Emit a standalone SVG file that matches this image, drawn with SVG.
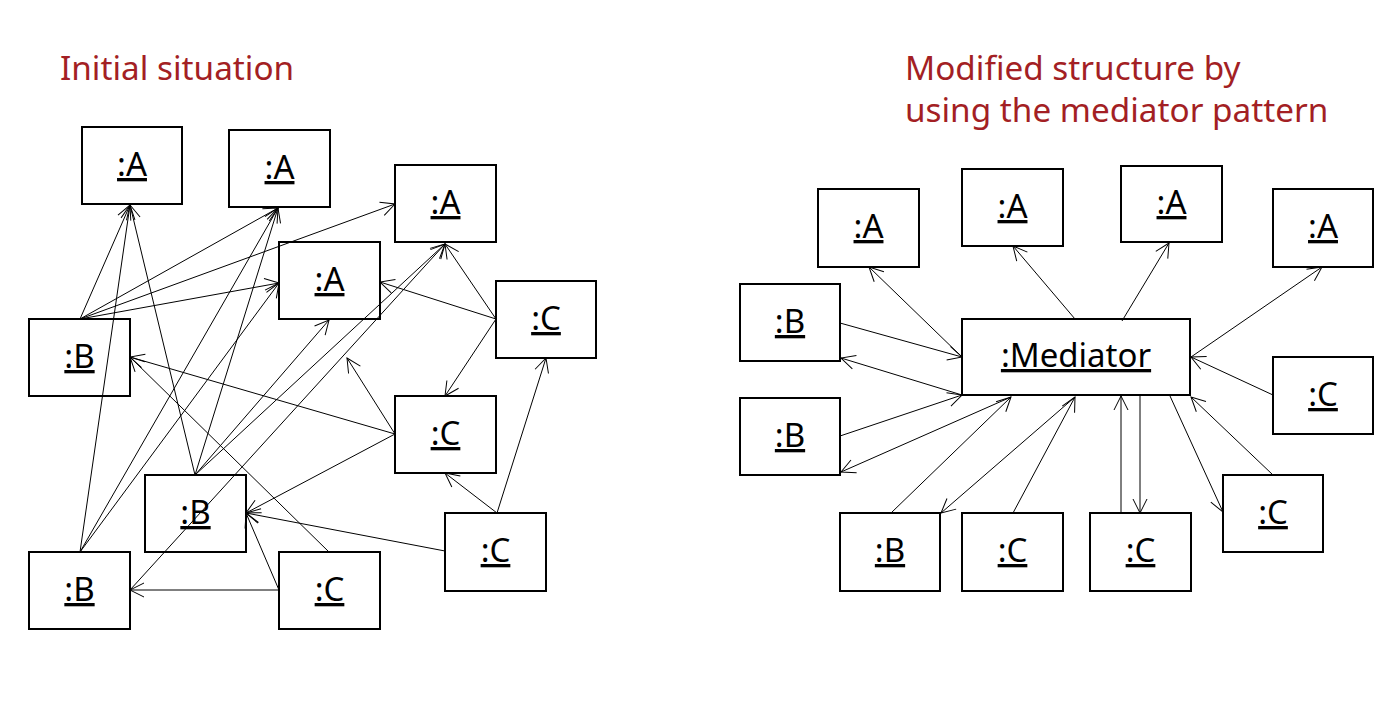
<svg xmlns="http://www.w3.org/2000/svg" width="1398" height="712" viewBox="0 0 1398 712">
<style>
.box{fill:#fff;stroke:#000;stroke-width:2}
.lbl{font-family:"Noto Sans","Open Sans",sans-serif;font-size:33px;fill:#000;text-anchor:middle;text-decoration:underline}
.title{font-family:"Noto Sans","Open Sans",sans-serif;font-size:33.3px;fill:#A31F24}
.c line{stroke:#000;stroke-width:1;marker-end:url(#arr)}
</style>
<defs>
<marker id="arr" viewBox="-16 -9 18 18" refX="0" refY="0" markerWidth="18" markerHeight="18" markerUnits="userSpaceOnUse" orient="auto">
<path d="M-14,-7 L0,0 L-14,7" fill="none" stroke="#000" stroke-width="1"/>
</marker>
</defs>
<rect width="1398" height="712" fill="#fff"/>
<text class="title" x="60" y="80">Initial situation</text>
<text class="title" x="905" y="80">Modified structure by</text>
<text class="title" x="905" y="122">using the mediator pattern</text>

<g id="left-nodes">
<g id="A1"><rect class="box" x="82" y="127" width="100" height="77"/><text class="lbl" x="132" y="176">:A</text></g>
<g id="A2"><rect class="box" x="229" y="130" width="101" height="77"/><text class="lbl" x="279.5" y="179">:A</text></g>
<g id="A3"><rect class="box" x="395" y="165" width="101" height="77"/><text class="lbl" x="445.5" y="214">:A</text></g>
<g id="A4"><rect class="box" x="279" y="242" width="101" height="77"/><text class="lbl" x="329.5" y="291">:A</text></g>
<g id="C1"><rect class="box" x="496" y="281" width="100" height="77"/><text class="lbl" x="546" y="330">:C</text></g>
<g id="B1"><rect class="box" x="29" y="319" width="101" height="77"/><text class="lbl" x="79.5" y="368">:B</text></g>
<g id="C2"><rect class="box" x="395" y="396" width="101" height="77"/><text class="lbl" x="445.5" y="445">:C</text></g>
<g id="B2"><rect class="box" x="145" y="475" width="101" height="77"/><text class="lbl" x="195.5" y="524">:B</text></g>
<g id="C3"><rect class="box" x="445" y="513" width="101" height="78"/><text class="lbl" x="495.5" y="562">:C</text></g>
<g id="B3"><rect class="box" x="29" y="552" width="101" height="77"/><text class="lbl" x="79.5" y="601">:B</text></g>
<g id="C4"><rect class="box" x="279" y="552" width="101" height="77"/><text class="lbl" x="329.5" y="601">:C</text></g>
</g>

<g id="right-nodes">
<g id="A5"><rect class="box" x="818" y="189" width="101" height="78"/><text class="lbl" x="868.5" y="238">:A</text></g>
<g id="A6"><rect class="box" x="962" y="169" width="101" height="77"/><text class="lbl" x="1012.5" y="218">:A</text></g>
<g id="A7"><rect class="box" x="1121" y="166" width="101" height="76"/><text class="lbl" x="1171.5" y="214">:A</text></g>
<g id="A8"><rect class="box" x="1273" y="189" width="100" height="78"/><text class="lbl" x="1323" y="238">:A</text></g>
<g id="B4"><rect class="box" x="740" y="284" width="100" height="77"/><text class="lbl" x="790" y="333">:B</text></g>
<g id="Mediator"><rect class="box" x="962" y="319" width="228" height="76"/><text class="lbl" x="1076" y="367">:Mediator</text></g>
<g id="C5"><rect class="box" x="1273" y="357" width="100" height="77"/><text class="lbl" x="1323" y="406">:C</text></g>
<g id="B5"><rect class="box" x="740" y="398" width="100" height="77"/><text class="lbl" x="790" y="447">:B</text></g>
<g id="C6"><rect class="box" x="1223" y="475" width="100" height="77"/><text class="lbl" x="1273" y="524">:C</text></g>
<g id="B6"><rect class="box" x="840" y="513" width="100" height="78"/><text class="lbl" x="890" y="562">:B</text></g>
<g id="C7"><rect class="box" x="962" y="513" width="101" height="78"/><text class="lbl" x="1012.5" y="562">:C</text></g>
<g id="C8"><rect class="box" x="1090" y="513" width="101" height="78"/><text class="lbl" x="1140.5" y="562">:C</text></g>
</g>

<g id="connectors" class="c">
<line x1="80" y1="319" x2="130" y2="205"/>
<line x1="80" y1="552" x2="130" y2="205"/>
<line x1="195" y1="475" x2="130" y2="205"/>
<line x1="80" y1="319" x2="278" y2="208"/>
<line x1="80" y1="552" x2="278" y2="208"/>
<line x1="195" y1="475" x2="278" y2="208"/>
<line x1="80" y1="319" x2="395" y2="204"/>
<line x1="80" y1="319" x2="279" y2="283"/>
<line x1="80" y1="552" x2="279" y2="283"/>
<line x1="195" y1="475" x2="329" y2="320"/>
<line x1="195" y1="475" x2="445" y2="244"/>
<line x1="130" y1="590" x2="445" y2="244"/>
<line x1="496" y1="319" x2="445" y2="244"/>
<line x1="496" y1="319" x2="380" y2="282"/>
<line x1="496" y1="319" x2="445" y2="396"/>
<line x1="497" y1="513" x2="546" y2="358"/>
<line x1="497" y1="513" x2="445" y2="473"/>
<line x1="445" y1="551" x2="246" y2="513"/>
<line x1="395" y1="434" x2="246" y2="513"/>
<line x1="395" y1="434" x2="130" y2="357"/>
<line x1="395" y1="434" x2="347" y2="358"/>
<line x1="329" y1="552" x2="130" y2="357"/>
<line x1="279" y1="590" x2="130" y2="590"/>
<line x1="279" y1="590" x2="246" y2="513"/>

<line x1="962" y1="357" x2="869" y2="267"/>
<line x1="840" y1="323" x2="962" y2="357"/>
<line x1="962" y1="395" x2="841" y2="358"/>
<line x1="1075" y1="319" x2="1013" y2="246"/>
<line x1="1122" y1="321" x2="1169" y2="243"/>
<line x1="1191" y1="357" x2="1322" y2="267"/>
<line x1="1273" y1="395" x2="1191" y2="357"/>
<line x1="840" y1="436" x2="962" y2="395"/>
<line x1="1011" y1="397" x2="841" y2="472"/>
<line x1="891" y1="513" x2="1011" y2="397"/>
<line x1="1075" y1="397" x2="941" y2="513"/>
<line x1="1013" y1="513" x2="1075" y2="397"/>
<line x1="1121" y1="513" x2="1121" y2="396"/>
<line x1="1140" y1="396" x2="1140" y2="513"/>
<line x1="1170" y1="396" x2="1223" y2="512"/>
<line x1="1273" y1="475" x2="1191" y2="397"/>
</g>
</svg>
